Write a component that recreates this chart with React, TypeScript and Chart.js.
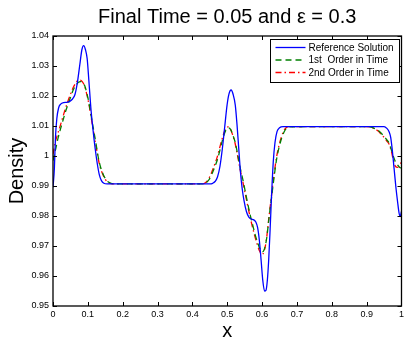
import React, { useEffect, useRef } from "react";
import { Chart, registerables } from "chart.js";

Chart.register(...registerables);

const titleText = "Final Time = 0.05 and \u03b5 = 0.3";
const xTitle = "x";
const yTitle = "Density";

const xTicks = [0, 0.1, 0.2, 0.3, 0.4, 0.5, 0.6, 0.7, 0.8, 0.9, 1];
const xTickLabels = ["0", "0.1", "0.2", "0.3", "0.4", "0.5", "0.6", "0.7", "0.8", "0.9", "1"];
const yTicks = [0.95, 0.96, 0.97, 0.98, 0.99, 1, 1.01, 1.02, 1.03, 1.04];
const yTickLabels = ["0.95", "0.96", "0.97", "0.98", "0.99", "1", "1.01", "1.02", "1.03", "1.04"];

const seriesLabels = ["Reference Solution", "1st  Order in Time", "2nd Order in Time"];

const refX = [0, 0.004, 0.007, 0.011, 0.016, 0.022, 0.03, 0.04, 0.048, 0.056, 0.063, 0.07, 0.077, 0.083, 0.088, 0.093, 0.098, 0.103, 0.109, 0.115, 0.121, 0.127, 0.133, 0.139, 0.146, 0.155, 0.3, 0.45, 0.458, 0.465, 0.472, 0.479, 0.486, 0.493, 0.4995, 0.505, 0.511, 0.517, 0.523, 0.528, 0.533, 0.538, 0.543, 0.548, 0.555, 0.562, 0.569, 0.576, 0.582, 0.587, 0.592, 0.597, 0.602, 0.607, 0.611, 0.615, 0.619, 0.623, 0.627, 0.632, 0.637, 0.643, 0.65, 0.66, 0.8, 0.95, 0.958, 0.964, 0.969, 0.974, 0.979, 0.984, 0.989, 0.993, 0.996, 1.0];
const refY = [0.9895, 0.996, 1.006, 1.0125, 1.016, 1.0173, 1.0178, 1.0179, 1.0182, 1.019, 1.0205, 1.0245, 1.0305, 1.0355, 1.0368, 1.0355, 1.0325, 1.025, 1.0155, 1.0085, 1.0025, 0.9975, 0.9937, 0.9918, 0.9909, 0.9907, 0.9907, 0.9907, 0.9909, 0.9915, 0.993, 0.9965, 1.0025, 1.01, 1.017, 1.0207, 1.022, 1.0205, 1.017, 1.0105, 1.0025, 0.9945, 0.989, 0.9852, 0.9815, 0.9796, 0.979, 0.9787, 0.978, 0.9762, 0.972, 0.9655, 0.9585, 0.955, 0.9552, 0.9585, 0.9655, 0.9755, 0.9865, 0.998, 1.0045, 1.0082, 1.0094, 1.0098, 1.0098, 1.0098, 1.0092, 1.0082, 1.0062, 1.0015, 0.9955, 0.9895, 0.9845, 0.981, 0.9798, 0.9815];

const firstX = [0, 0.008, 0.015, 0.022, 0.029, 0.036, 0.044, 0.051, 0.058, 0.066, 0.073, 0.079, 0.085, 0.091, 0.096, 0.1, 0.105, 0.11, 0.115, 0.12, 0.125, 0.13, 0.136, 0.143, 0.15, 0.158, 0.167, 0.178, 0.3, 0.43, 0.438, 0.447, 0.456, 0.464, 0.471, 0.478, 0.485, 0.492, 0.498, 0.504, 0.51, 0.516, 0.523, 0.53, 0.5375, 0.545, 0.552, 0.559, 0.566, 0.573, 0.58, 0.587, 0.594, 0.6, 0.606, 0.613, 0.62, 0.628, 0.635, 0.642, 0.649, 0.656, 0.663, 0.67, 0.68, 0.8, 0.905, 0.913, 0.922, 0.932, 0.942, 0.951, 0.958, 0.965, 0.971, 0.977, 0.983, 0.989, 0.995, 1.0];
const firstY = [0.9985, 1.0025, 1.0062, 1.0092, 1.012, 1.0148, 1.0175, 1.0198, 1.022, 1.0236, 1.0246, 1.0248, 1.0245, 1.0234, 1.0215, 1.0195, 1.0165, 1.013, 1.0097, 1.0064, 1.003, 0.9995, 0.9965, 0.9942, 0.9925, 0.9914, 0.9909, 0.9907, 0.9907, 0.9907, 0.991, 0.992, 0.994, 0.9963, 0.9985, 1.0015, 1.0047, 1.0075, 1.009, 1.0094, 1.0088, 1.007, 1.0045, 1.0005, 0.9959, 0.992, 0.988, 0.984, 0.9803, 0.977, 0.9738, 0.9712, 0.969, 0.968, 0.9688, 0.9725, 0.9795, 0.987, 0.9935, 0.9992, 1.003, 1.0059, 1.008, 1.0092, 1.0097, 1.0098, 1.0098, 1.0096, 1.0092, 1.0086, 1.0076, 1.0064, 1.0054, 1.0042, 1.002, 0.9998, 0.998, 0.997, 0.9962, 0.996];

const secondX = [0, 0.006, 0.013, 0.02, 0.027, 0.034, 0.042, 0.05, 0.058, 0.065, 0.072, 0.078, 0.084, 0.09, 0.095, 0.1, 0.105, 0.11, 0.115, 0.12, 0.125, 0.13, 0.136, 0.143, 0.15, 0.158, 0.167, 0.178, 0.3, 0.428, 0.436, 0.445, 0.454, 0.462, 0.47, 0.477, 0.484, 0.491, 0.497, 0.503, 0.509, 0.515, 0.522, 0.529, 0.536, 0.544, 0.551, 0.558, 0.565, 0.572, 0.579, 0.586, 0.593, 0.599, 0.605, 0.612, 0.619, 0.627, 0.634, 0.641, 0.648, 0.655, 0.662, 0.669, 0.68, 0.8, 0.9, 0.908, 0.916, 0.924, 0.933, 0.942, 0.95, 0.958, 0.965, 0.971, 0.977, 0.983, 0.989, 0.995, 1.0];
const secondY = [1.0005, 1.0043, 1.0072, 1.0098, 1.0125, 1.0152, 1.018, 1.0205, 1.0228, 1.0243, 1.0252, 1.0253, 1.0248, 1.0235, 1.0215, 1.019, 1.016, 1.0125, 1.009, 1.0057, 1.0023, 0.999, 0.996, 0.9938, 0.9922, 0.9912, 0.9908, 0.9907, 0.9907, 0.9907, 0.991, 0.9921, 0.9942, 0.9966, 0.9992, 1.0022, 1.0052, 1.0078, 1.0093, 1.0097, 1.009, 1.0072, 1.0045, 1.0005, 0.996, 0.9918, 0.9878, 0.9838, 0.98, 0.9765, 0.9733, 0.9705, 0.9683, 0.9672, 0.968, 0.9718, 0.979, 0.9868, 0.9935, 0.9993, 1.0033, 1.0062, 1.0083, 1.0094, 1.0098, 1.0098, 1.0098, 1.0097, 1.0094, 1.009, 1.0083, 1.0072, 1.0062, 1.005, 1.0038, 1.0015, 0.9985, 0.9965, 0.9962, 0.997, 0.998];

const FONT = "'Liberation Sans', Arial, Helvetica, sans-serif";

const toPoints = (xs: number[], ys: number[]) => xs.map((x, i) => ({ x, y: ys[i] }));

const decorPlugin = {
  id: "decor",
  afterDraw(chart: any) {
    const { ctx, chartArea: a, scales } = chart;
    ctx.save();
    // axes box
    ctx.strokeStyle = "#000";
    ctx.lineWidth = 1.3;
    ctx.strokeRect(a.left, a.top, a.right - a.left, a.bottom - a.top);
    // inward ticks on all sides
    ctx.lineWidth = 1;
    ctx.beginPath();
    const tl = 4;
    for (const v of xTicks) {
      const px = Math.round(scales.x.getPixelForValue(v)) + 0.5;
      ctx.moveTo(px, a.bottom);
      ctx.lineTo(px, a.bottom - tl);
      ctx.moveTo(px, a.top);
      ctx.lineTo(px, a.top + tl);
    }
    for (const v of yTicks) {
      const py = Math.round(scales.y.getPixelForValue(v)) + 0.5;
      ctx.moveTo(a.left, py);
      ctx.lineTo(a.left + tl, py);
      ctx.moveTo(a.right, py);
      ctx.lineTo(a.right - tl, py);
    }
    ctx.stroke();

    // title
    ctx.fillStyle = "#000";
    ctx.font = `20px ${FONT}`;
    ctx.textAlign = "center";
    ctx.textBaseline = "middle";
    ctx.fillText(titleText, (a.left + a.right) / 2, 17);

    // x axis title
    ctx.font = `20px ${FONT}`;
    ctx.textBaseline = "alphabetic";
    ctx.fillText(xTitle, (a.left + a.right) / 2, 337);

    // y axis title
    ctx.save();
    ctx.translate(17, (a.top + a.bottom) / 2);
    ctx.rotate(-Math.PI / 2);
    ctx.textBaseline = "middle";
    ctx.fillText(yTitle, 0, 0);
    ctx.restore();

    // legend
    const lw = 129;
    const lh = 43;
    const lx = a.right - 2 - lw;
    const ly = a.top + 3;
    ctx.fillStyle = "#fff";
    ctx.fillRect(lx, ly, lw, lh);
    ctx.strokeStyle = "#000";
    ctx.lineWidth = 1;
    ctx.strokeRect(Math.round(lx) + 0.5, Math.round(ly) + 0.5, lw, lh);
    ctx.font = `10px ${FONT}`;
    ctx.textAlign = "left";
    ctx.textBaseline = "middle";
    chart.data.datasets.forEach((ds: any, i: number) => {
      const ry = ly + 8.5 + i * 12.5;
      ctx.save();
      ctx.strokeStyle = ds.borderColor;
      ctx.lineWidth = ds.borderWidth;
      ctx.setLineDash(ds.borderDash || []);
      ctx.beginPath();
      ctx.moveTo(lx + 5, ry);
      ctx.lineTo(lx + 35, ry);
      ctx.stroke();
      ctx.restore();
      ctx.fillStyle = "#000";
      ctx.fillText(ds.label, lx + 38, ry + 0.5);
    });
    ctx.restore();
  },
};

export default function App() {
  const canvasRef = useRef<HTMLCanvasElement | null>(null);

  useEffect(() => {
    const canvas = canvasRef.current;
    if (!canvas) return;
    const chart = new Chart(canvas, {
      type: "line",
      data: {
        datasets: [
          {
            label: seriesLabels[0],
            data: toPoints(refX, refY),
            borderColor: "#0000ff",
            borderWidth: 1.3,
            borderDash: [],
          },
          {
            label: seriesLabels[1],
            data: toPoints(firstX, firstY),
            borderColor: "#008000",
            borderWidth: 1.3,
            borderDash: [6, 4],
          },
          {
            label: seriesLabels[2],
            data: toPoints(secondX, secondY),
            borderColor: "#ff0000",
            borderWidth: 1.3,
            borderDash: [6, 3, 1.5, 3],
          },
        ] as any,
      },
      options: {
        responsive: false,
        animation: false,
        events: [],
        layout: { padding: { top: 36, right: 3, left: 0, bottom: 0 } },
        elements: {
          point: { radius: 0 },
          line: { cubicInterpolationMode: "monotone", fill: false },
        },
        plugins: {
          legend: { display: false },
          title: { display: false },
          tooltip: { enabled: false },
        },
        scales: {
          x: {
            type: "linear",
            min: 0,
            max: 1,
            grid: { display: false, drawTicks: false },
            border: { display: false },
            afterBuildTicks: (scale: any) => {
              scale.ticks = xTicks.map((v) => ({ value: v }));
            },
            afterFit: (scale: any) => {
              scale.height = 33;
            },
            ticks: {
              padding: 3,
              autoSkip: false,
              maxRotation: 0,
              color: "#000",
              font: { family: FONT, size: 9 },
              callback: (_v: any, i: number) => xTickLabels[i],
            },
          },
          y: {
            type: "linear",
            min: 0.95,
            max: 1.04,
            grid: { display: false, drawTicks: false },
            border: { display: false },
            afterBuildTicks: (scale: any) => {
              scale.ticks = yTicks.map((v) => ({ value: v }));
            },
            afterFit: (scale: any) => {
              scale.width = 53;
            },
            ticks: {
              padding: 4,
              autoSkip: false,
              color: "#000",
              font: { family: FONT, size: 9 },
              callback: (_v: any, i: number) => yTickLabels[i],
            },
          },
        },
      } as any,
      plugins: [decorPlugin],
    });
    return () => chart.destroy();
  }, []);

  return (
    <div style={{ position: "absolute", left: 0, top: 0, width: 407, height: 339, background: "#fff" }}>
      <canvas ref={canvasRef} width={407} height={339} style={{ display: "block" }} />
    </div>
  );
}
